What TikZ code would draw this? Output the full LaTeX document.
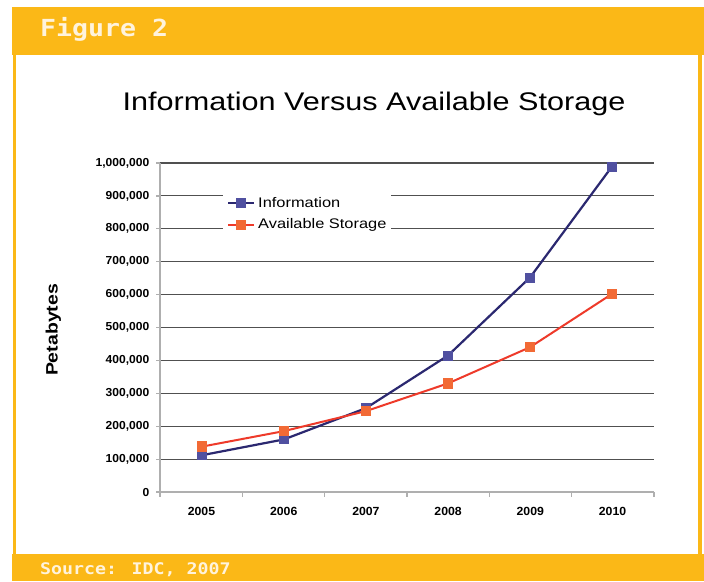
\documentclass[tikz,border=0pt]{standalone}
\usepackage{fontspec}
\setmainfont{Liberation Sans}
\newfontfamily\chartfont{Liberation Sans}[FakeStretch=1.18]
\newfontfamily\tickfont{Liberation Sans}[FakeStretch=1.04]
\newfontfamily\titlefont{Liberation Sans}[FakeStretch=1.2]
\newfontfamily\figfont{DejaVu Sans Mono}[FakeStretch=1.13]
\newfontfamily\srcfont{DejaVu Sans Mono}[FakeStretch=1.14]
\definecolor{framecol}{RGB}{251,184,23}
\definecolor{creamtxt}{RGB}{255,243,220}
\definecolor{gridcol}{RGB}{80,80,80}
\definecolor{axiscol}{RGB}{175,175,175}
\definecolor{infoline}{RGB}{43,40,112}
\definecolor{infomark}{RGB}{80,80,160}
\definecolor{storline}{RGB}{238,58,42}
\definecolor{stormark}{RGB}{242,106,53}
\tikzset{
  gridline/.style={draw=gridcol,line width=1.1pt},
  axisline/.style={draw=axiscol,line width=1.2pt},
  ilinestyle/.style={draw=infoline,line width=2.2pt,line join=round},
  slinestyle/.style={draw=storline,line width=2pt,line join=round},
  imark/.style={rectangle,fill=infomark,minimum size=10pt,inner sep=0pt},
  smark/.style={rectangle,fill=stormark,minimum size=10.5pt,inner sep=0pt},
  ylab/.style={anchor=east,font=\tickfont\bfseries\fontsize{11.6}{13}\selectfont,inner sep=0pt},
  xlab/.style={anchor=base,font=\tickfont\bfseries\fontsize{11.8}{13}\selectfont,inner sep=0pt},
  legtext/.style={anchor=west,font=\chartfont\fontsize{13.9}{16}\selectfont,inner sep=0pt}
}
\begin{document}
\begin{tikzpicture}[x=1pt,y=-1pt]
\useasboundingbox (0,0) rectangle (704,581);
\fill[white] (0,0) rectangle (704,581);
% frame
\fill[framecol] (12,7) rectangle (704,54.5);
\fill[framecol] (12,553.5) rectangle (704,581);
\fill[framecol] (13,54) rectangle (15.5,554);
\fill[framecol] (698,54) rectangle (701.5,554);
\node[anchor=base west,inner sep=0pt,text=creamtxt,font=\figfont\bfseries\fontsize{23.5}{24}\selectfont] (fig) at (40,36.5) {Figure 2};
\node[anchor=base west,inner sep=0pt,text=creamtxt,font=\srcfont\bfseries\fontsize{16}{17}\selectfont] (src) at (40,574) {Source: IDC, 2007};
% title
\node[anchor=base,inner sep=0pt,font=\titlefont\fontsize{25.5}{27}\selectfont] (title) at (374,110.7) {Information Versus Available Storage};
% gridlines
\foreach \v in {1,...,10} {
  \draw[gridline] (160,{492-32.9*\v}) -- (654,{492-32.9*\v});
}
% axes
\draw[axisline] (160,163) -- (160,492);
\draw[axisline] (160,492) -- (654,492);
\foreach \k in {0,...,6} {
  \draw[axisline] ({160+82.33*\k},492) -- ({160+82.33*\k},497);
}
\foreach \v in {0,...,10} {
  \draw[axisline] (156,{492-32.9*\v}) -- (160,{492-32.9*\v});
}
% y labels
\foreach \v/\t in {0/0,1/{100,000},2/{200,000},3/{300,000},4/{400,000},5/{500,000},6/{600,000},7/{700,000},8/{800,000},9/{900,000},10/{1,000,000}} {
  \node[ylab] at (149.5,{492-32.9*\v}) {\t};
}
% x labels
\foreach \k/\t in {0/2005,1/2006,2/2007,3/2008,4/2009,5/2010} {
  \node[xlab] at ({201.5+82.2*\k},515) {\t};
}
% axis title
\node[rotate=90,anchor=base,inner sep=0pt,font=\chartfont\bfseries\fontsize{16.5}{18}\selectfont] (ytitle) at (57.7,330) {Petabytes};
% legend
\fill[white] (223,188) rectangle (390.5,238);
\coordinate (li1) at (228,203);
\coordinate (li2) at (254,203);
\coordinate (ls1) at (228,225);
\coordinate (ls2) at (254,225);
\draw[ilinestyle] (li1) -- (li2);
\node[imark] (lim) at (241,203) {};
\draw[slinestyle] (ls1) -- (ls2);
\node[smark] (lsm) at (241,225) {};
\node[legtext] (legi) at (258,203) {Information};
\node[legtext] (legs) at (258,225) {Available Storage};
% data
\coordinate (i1) at (202,455.2);
\coordinate (i2) at (284,439.4);
\coordinate (i3) at (366,408.1);
\coordinate (i4) at (448,355.5);
\coordinate (i5) at (530,277.5);
\coordinate (i6) at (612,166.5);
\coordinate (s1) at (202,446.6);
\coordinate (s2) at (284,431.1);
\coordinate (s3) at (366,411.1);
\coordinate (s4) at (448,383.4);
\coordinate (s5) at (530,347.2);
\coordinate (s6) at (612,293.9);
\draw[ilinestyle] (i1) -- (i2) -- (i3) -- (i4) -- (i5) -- (i6);
\foreach \n in {1,...,6} { \node[imark] (mi\n) at (i\n) {}; }
\draw[slinestyle] (s1) -- (s2) -- (s3) -- (s4) -- (s5) -- (s6);
\foreach \n in {1,...,6} { \node[smark] (ms\n) at (s\n) {}; }
\end{tikzpicture}
\end{document}
